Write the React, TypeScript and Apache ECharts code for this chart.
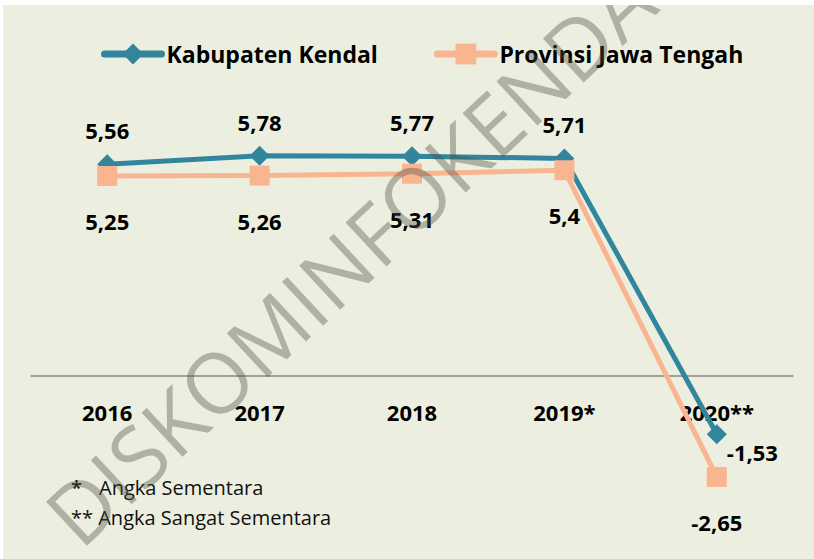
import React, { useEffect, useRef } from "react";
import * as echarts from "echarts";

const categories = ["2016", "2017", "2018", "2019*", "2020**"];
const kendalValues = [5.56, 5.78, 5.77, 5.71, -1.53];
const jatengValues = [5.25, 5.26, 5.31, 5.4, -2.65];
const seriesNames = ["Kabupaten Kendal", "Provinsi Jawa Tengah"];
const noteStar = "*";
const noteOne = "Angka Sementara";
const noteTwo = "** Angka Sangat Sementara";
const watermarkText = "DISKOMINFOKENDAL";

const TEAL = "#31859C";
const PEACH = "#F9B590";
const BG = "#ECEFDF";
const FONT = "'Open Sans', 'Noto Sans', sans-serif";

const Y_MIN = -3;
const Y_MAX = 6;
const GRID_TOP = 147.4;
const GRID_BOTTOM = 68.7;
const CHART_H = 559;

const fmt = (v: number) => String(v).replace(".", ",");

export default function App() {
  const ref = useRef<HTMLDivElement>(null);

  useEffect(() => {
    if (!ref.current) return;
    const chart = echarts.init(ref.current, null, { renderer: "svg" });

    // shift the category axis up to the zero line
    const plotH = CHART_H - GRID_TOP - GRID_BOTTOM;
    const zeroOffset = -(plotH * (0 - Y_MIN)) / (Y_MAX - Y_MIN);

    const labelBase = {
      show: true,
      fontSize: 22,
      fontWeight: "bold" as const,
      color: "#000",
      fontFamily: FONT,
      formatter: (p: any) => fmt(p.value),
    };

    const kendalData = kendalValues.map((v, i) =>
      i === kendalValues.length - 1
        ? { value: v, label: { position: "right", distance: 0, offset: [0, 18] } }
        : { value: v }
    );

    chart.setOption({
      animation: false,
      backgroundColor: BG,
      textStyle: { fontFamily: FONT },
      grid: { left: 31, right: 21, top: GRID_TOP, bottom: GRID_BOTTOM, containLabel: false },
      xAxis: {
        type: "category",
        data: categories,
        boundaryGap: true,
        position: "bottom",
        offset: zeroOffset,
        axisLine: { show: true, onZero: false, lineStyle: { color: "#878787", width: 1.5 } },
        axisTick: { show: false },
        axisLabel: {
          margin: 25,
          fontSize: 22,
          fontWeight: "bold",
          color: "#000",
          fontFamily: FONT,
        },
        splitLine: { show: false },
      },
      yAxis: { type: "value", min: Y_MIN, max: Y_MAX, show: false, splitLine: { show: false } },
      legend: {
        left: 96,
        top: 36,
        itemWidth: 57,
        itemHeight: 26,
        itemGap: 56,
        data: seriesNames,
        lineStyle: { width: 7, cap: "round" },
        textStyle: { fontSize: 23, fontWeight: "bold", color: "#000", fontFamily: FONT, lineHeight: 26 },
      },
      series: [
        {
          name: seriesNames[0],
          type: "line",
          data: kendalData,
          symbol: "diamond",
          symbolSize: 20,
          lineStyle: { color: TEAL, width: 5 },
          itemStyle: { color: TEAL },
          label: { ...labelBase, position: "top", distance: 13 },
          z: 2,
        },
        {
          name: seriesNames[1],
          type: "line",
          data: jatengValues,
          symbol: "rect",
          symbolSize: 20,
          lineStyle: { color: PEACH, width: 5 },
          itemStyle: { color: PEACH },
          label: { ...labelBase, position: "bottom", distance: 24 },
          z: 3,
        },
      ],
      graphic: [
        {
          type: "text",
          x: 71,
          y: 487,
          style: { text: noteStar, fontSize: 20, fontWeight: 600, fontFamily: FONT, fill: "#111", verticalAlign: "middle", align: "left" },
        },
        {
          type: "text",
          x: 99,
          y: 487,
          style: { text: noteOne, fontSize: 20, fontWeight: 500, fontFamily: FONT, fill: "#111", verticalAlign: "middle", align: "left" },
        },
        {
          type: "text",
          x: 71,
          y: 517,
          style: { text: noteTwo, fontSize: 20, fontWeight: 500, fontFamily: FONT, fill: "#111", verticalAlign: "middle", align: "left" },
        },
        {
          type: "text",
          x: 365,
          y: 242,
          rotation: (43 * Math.PI) / 180,
          z: 100,
          style: {
            text: watermarkText,
            fontSize: 84,
            fontFamily: FONT,
            fill: "rgba(75,80,65,0.38)",
            align: "center",
            verticalAlign: "middle",
          },
        },
        { type: "rect", z: 200, shape: { x: 0, y: 0, width: 814, height: 5 }, style: { fill: "#fff" } },
        { type: "rect", z: 200, shape: { x: 0, y: 0, width: 3, height: 559 }, style: { fill: "#fff" } },
      ],
    });

    return () => chart.dispose();
  }, []);

  return (
    <div
      ref={ref}
      style={{ position: "absolute", left: 0, top: 0, width: 814, height: 559 }}
    />
  );
}
